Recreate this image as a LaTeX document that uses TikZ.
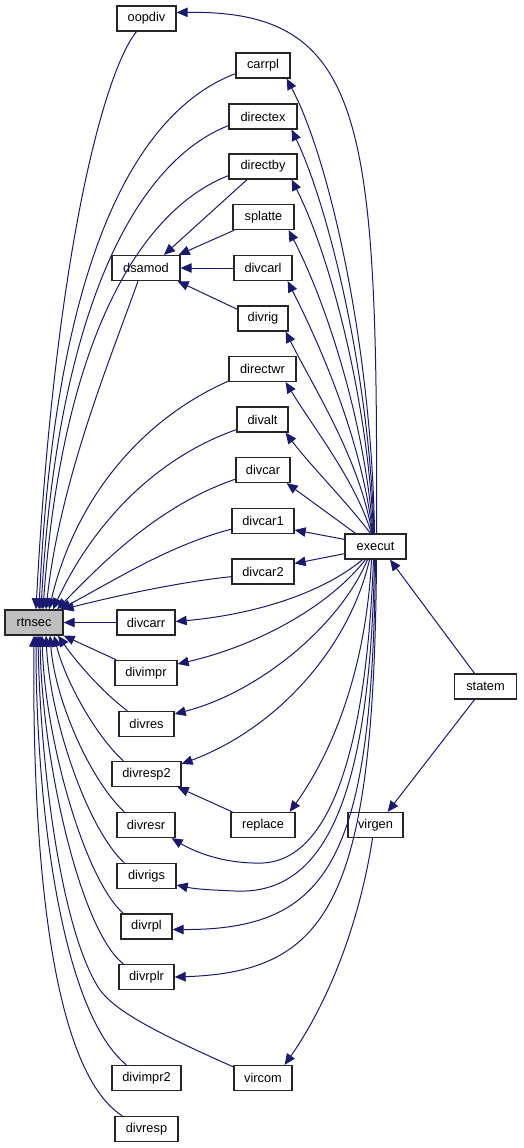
\documentclass[tikz,border=0pt]{standalone}
\usepackage{fontspec}
\setmainfont{Liberation Sans}
\usetikzlibrary{arrows.meta}
\definecolor{edgec}{HTML}{191970}
\tikzset{
  box/.style={draw=black!85, line width=1.3pt, fill=white, rectangle, minimum height=25pt, inner sep=0pt, font=\fontsize{12.8}{14}\selectfont},
  edge/.style={draw=edgec, line width=1pt, -{Triangle[length=11pt,width=9.5pt]}, fill=none},
}
\begin{document}
\begin{tikzpicture}[x=1pt,y=-1pt]
\useasboundingbox (0,0) rectangle (523,1148);
% nodes
\node[box, minimum width=58pt, fill=black!25] (rtnsec) at (34,622.5) {rtnsec};
\node[box, minimum width=59pt] (oopdiv) at (146.5,18.5) {oopdiv};
\node[box, minimum width=54pt] (carrpl) at (263,65.5) {carrpl};
\node[box, minimum width=68pt] (directex) at (263,116.5) {directex};
\node[box, minimum width=68pt] (directby) at (263,166.5) {directby};
\node[box, minimum width=61pt] (splatte) at (263.5,217) {splatte};
\node[box, minimum width=68pt] (dsamod) at (146,268) {dsamod};
\node[box, minimum width=58pt] (divcarl) at (263,268) {divcarl};
\node[box, minimum width=50pt] (divrig) at (263,318.5) {divrig};
\node[box, minimum width=67pt] (directwr) at (262.5,369) {directwr};
\node[box, minimum width=51pt] (divalt) at (262.5,419.5) {divalt};
\node[box, minimum width=54pt] (divcar) at (263,470) {divcar};
\node[box, minimum width=62pt] (divcar1) at (263,521) {divcar1};
\node[box, minimum width=62pt] (divcar2) at (263,571.5) {divcar2};
\node[box, minimum width=61pt] (execut) at (375.5,546.5) {execut};
\node[box, minimum width=58pt] (divcarr) at (146,622.5) {divcarr};
\node[box, minimum width=62pt] (divimpr) at (146,673) {divimpr};
\node[box, minimum width=62pt] (statem) at (485.5,686.5) {statem};
\node[box, minimum width=55pt] (divres) at (146.5,724) {divres};
\node[box, minimum width=69pt] (divresp2) at (146.5,774) {divresp2};
\node[box, minimum width=58pt] (divresr) at (146,825) {divresr};
\node[box, minimum width=64pt] (replace) at (263,825) {replace};
\node[box, minimum width=55pt] (virgen) at (375.5,825) {virgen};
\node[box, minimum width=59pt] (divrigs) at (146.5,876) {divrigs};
\node[box, minimum width=51pt] (divrpl) at (146.5,926.5) {divrpl};
\node[box, minimum width=55pt] (divrplr) at (146.5,977) {divrplr};
\node[box, minimum width=69pt] (divimpr2) at (146.5,1078) {divimpr2};
\node[box, minimum width=58pt] (vircom) at (263,1078) {vircom};
\node[box, minimum width=63pt] (divresp) at (146.5,1129) {divresp};

% edges into rtnsec from above
\draw[edge] ([xshift=-10pt]oopdiv.south) .. controls (105,70) and (55,250) .. ([xshift=2pt]rtnsec.north);
\draw[edge] ([yshift=5pt]carrpl.south west) .. controls (140,110) and (55,250) .. ([xshift=5pt]rtnsec.north);
\draw[edge] ([yshift=4pt]directex.south west) .. controls (140,160) and (58,300) .. ([xshift=7pt]rtnsec.north);
\draw[edge] ([yshift=4pt]directby.south west) .. controls (140,210) and (62,340) .. ([xshift=9pt]rtnsec.north);
\draw[edge] ([xshift=-8pt]dsamod.south) .. controls (110,360) and (60,480) .. ([xshift=12pt]rtnsec.north);
\draw[edge] ([yshift=1pt]directwr.south west) .. controls (140,420) and (75,500) .. ([xshift=15pt]rtnsec.north);
\draw[edge] ([yshift=3pt]divalt.south west) .. controls (150,460) and (90,530) .. ([xshift=19pt]rtnsec.north);
\draw[edge] ([yshift=4pt]divcar.south west) .. controls (160,505) and (105,560) .. ([xshift=23pt]rtnsec.north);
\draw[edge] ([yshift=5pt]divcar1.south west) .. controls (170,545) and (115,580) .. ([xshift=26pt]rtnsec.north);
\draw[edge] ([yshift=8pt]divcar2.south west) .. controls (180,582) and (120,595) .. ([xshift=-1pt]rtnsec.north east);
\draw[edge] (divcarr.west) -- (rtnsec.east);
% edges into rtnsec from below
\draw[edge] ([xshift=2pt]divimpr.north west) -- (rtnsec.south east);
\draw[edge] ([xshift=9pt]divres.north west) .. controls (100,690) and (75,660) .. ([xshift=24pt]rtnsec.south);
\draw[edge] ([xshift=12pt]divresp2.north west) .. controls (95,735) and (65,680) .. ([xshift=20pt]rtnsec.south);
\draw[edge] ([xshift=8pt]divresr.north west) .. controls (90,780) and (55,700) .. ([xshift=16pt]rtnsec.south);
\draw[edge] ([xshift=8pt]divrigs.north west) .. controls (88,830) and (50,720) .. ([xshift=12pt]rtnsec.south);
\draw[edge] ([xshift=3pt]divrpl.north west) .. controls (85,880) and (45,740) .. ([xshift=8pt]rtnsec.south);
\draw[edge] ([xshift=5pt]divrplr.north west) .. controls (80,930) and (42,760) .. ([xshift=6pt]rtnsec.south);
\draw[edge] ([yshift=-2pt]vircom.north west) .. controls (150,1030) and (115,1010) .. (100,990) .. controls (60,930) and (40,760) .. ([xshift=4pt]rtnsec.south);
\draw[edge] ([xshift=15pt]divimpr2.north west) .. controls (60,1010) and (36,800) .. ([xshift=2pt]rtnsec.south);
\draw[edge] ([xshift=8pt]divresp.north west) .. controls (50,1070) and (32,850) .. (rtnsec.south);

% dsamod group
\draw[edge] ([xshift=-16pt]directby.south) -- ([xshift=18pt]dsamod.north);
\draw[edge] ([xshift=2pt]splatte.south west) -- ([xshift=-2pt]dsamod.north east);
\draw[edge] (divcarl.west) -- (dsamod.east);
\draw[edge] ([yshift=-4pt]divrig.north west) -- ([xshift=-3pt]dsamod.south east);
\draw[edge] ([xshift=2pt]replace.north west) -- ([xshift=-4pt]divresp2.south east);

% execut fan upwards
\draw[edge] ([xshift=1pt]execut.north) .. controls (378,120) and (365,10) .. ([yshift=6pt]oopdiv.east);
\draw[edge] ([xshift=-1pt]execut.north) .. controls (372,350) and (330,160) .. ([xshift=-4pt]carrpl.south east);
\draw[edge] ([xshift=-1.5pt]execut.north) .. controls (370,380) and (330,210) .. ([xshift=-6pt]directex.south east);
\draw[edge] ([xshift=-2pt]execut.north) .. controls (368,400) and (330,255) .. ([xshift=-6pt]directby.south east);
\draw[edge] ([xshift=-2.5pt]execut.north) .. controls (365,420) and (325,300) .. ([xshift=-6pt]splatte.south east);
\draw[edge] ([xshift=-3pt]execut.north) .. controls (362,440) and (320,345) .. ([xshift=-5pt]divcarl.south east);
\draw[edge] ([xshift=-3.5pt]execut.north) .. controls (360,460) and (315,390) .. ([xshift=-3pt]divrig.south east);
\draw[edge] ([xshift=-4pt]execut.north) .. controls (355,480) and (315,430) .. ([xshift=-11pt]directwr.south east);
\draw[edge] ([xshift=-5pt]execut.north) .. controls (345,500) and (310,465) .. ([xshift=-3pt]divalt.south east);
\draw[edge] ([xshift=-20pt]execut.north) -- ([xshift=-4pt]divcar.south east);
\draw[edge] ([yshift=-6pt]execut.north west) -- ([yshift=-9pt]divcar1.east);
\draw[edge] ([yshift=6pt]execut.south west) -- ([yshift=8pt]divcar2.east);

% execut fan downwards
\draw[edge] ([xshift=-13pt]execut.south) .. controls (320,595) and (250,615) .. ([yshift=1pt]divcarr.east);
\draw[edge] ([xshift=-10pt]execut.south) .. controls (330,605) and (260,645) .. ([yshift=9pt]divimpr.east);
\draw[edge] ([xshift=-8pt]execut.south) .. controls (340,625) and (260,692) .. ([yshift=10pt]divres.east);
\draw[edge] ([xshift=-6pt]execut.south) .. controls (350,645) and (280,727) .. ([yshift=10pt]divresp2.east);
\draw[edge] ([xshift=-4pt]execut.south) .. controls (365,690) and (320,770) .. ([xshift=-6pt]replace.north east);
\draw[edge] ([xshift=-2pt]execut.south) .. controls (365,780) and (320,860) .. (263,863) .. controls (230,864) and (200,855) .. ([xshift=-4pt]divresr.south east);
\draw[edge] ([xshift=-1pt]execut.south) .. controls (370,810) and (320,895) .. (235,891) .. controls (210,890) and (195,889) .. ([yshift=-9pt]divrigs.east);
\draw[edge] (execut.south) .. controls (372,860) and (330,930) .. ([yshift=-3pt]divrpl.east);
\draw[edge] ([xshift=1pt]execut.south) .. controls (374,900) and (330,972) .. (divrplr.east);

% statem / virgen
\draw[edge] ([xshift=-11pt]statem.north) -- ([xshift=14.5pt]execut.south);
\draw[edge] ([xshift=-11pt]statem.south) -- ([xshift=-16pt]virgen.north east);
\draw[edge] ([xshift=-3pt]virgen.south) .. controls (360,920) and (330,1000) .. ([xshift=-8pt]vircom.north east);
\end{tikzpicture}
\end{document}
